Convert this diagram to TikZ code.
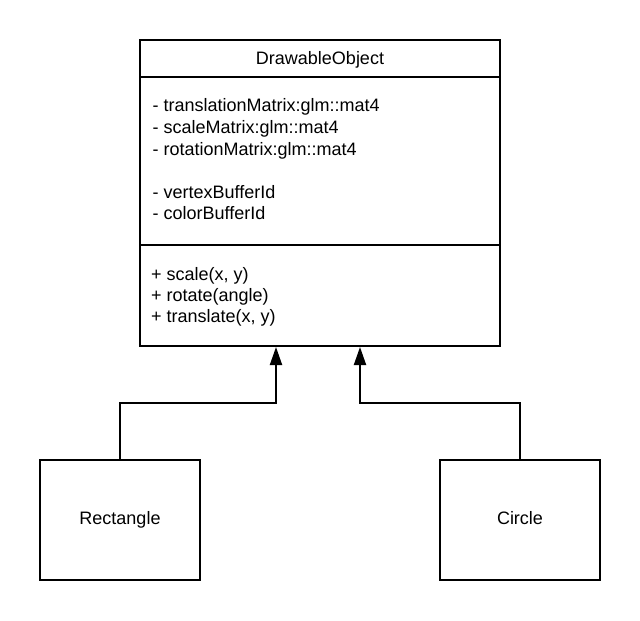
\documentclass[tikz,border=0pt]{standalone}
\usepackage{fontspec}
\setmainfont{Liberation Sans}
\usetikzlibrary{arrows.meta}
\begin{document}
\begin{tikzpicture}[x=1pt,y=-1pt,
  box/.style={draw=black,line width=2pt,inner sep=0pt},
  txt/.style={inner sep=0pt,font=\fontsize{18}{21.5}\selectfont},
  ln/.style={txt,anchor=base west},
  inh/.style={draw=black,line width=2pt,-{Triangle[length=18pt,width=12pt]}}]
\fill[white] (0,0) rectangle (640,621);
\useasboundingbox (0,0) rectangle (640,621);
% main class box
\node[box,minimum width=360pt,minimum height=306pt] (main) at (320,193) {};
\draw[line width=2pt] (main.west |- 0,77) -- (main.east |- 0,77);
\draw[line width=2pt] (main.west |- 0,245) -- (main.east |- 0,245);
\node[txt,anchor=base] (title) at (320,64) {DrawableObject};
\node[ln] (a1) at (152.5,111.7) {- translationMatrix:glm::mat4};
\node[ln] (a2) at (152.5,133.3) {- scaleMatrix:glm::mat4};
\node[ln] (a3) at (152.5,155) {- rotationMatrix:glm::mat4};
\node[ln] (a4) at (152.5,198.3) {- vertexBufferId};
\node[ln] (a5) at (152.5,219.5) {- colorBufferId};
\node[ln] (o1) at (151,280.7) {+ scale(x, y)};
\node[ln] (o2) at (151,301.5) {+ rotate(angle)};
\node[ln] (o3) at (151,322.3) {+ translate(x, y)};
% subclasses
\node[box,minimum width=160pt,minimum height=120pt] (rect) at (120,520) {};
\node[box,minimum width=160pt,minimum height=120pt] (circ) at (520,520) {};
\node[txt,anchor=base] (rectl) at (120,524.5) {Rectangle};
\node[txt,anchor=base] (circl) at (520,524.5) {Circle};
% inheritance arrows
\coordinate (jl) at (276,403);
\coordinate (jr) at (360,403);
\draw[inh] (rect.north) |- (jl) -- (jl |- main.south);
\draw[inh] (circ.north) |- (jr) -- (jr |- main.south);
\end{tikzpicture}
\end{document}
